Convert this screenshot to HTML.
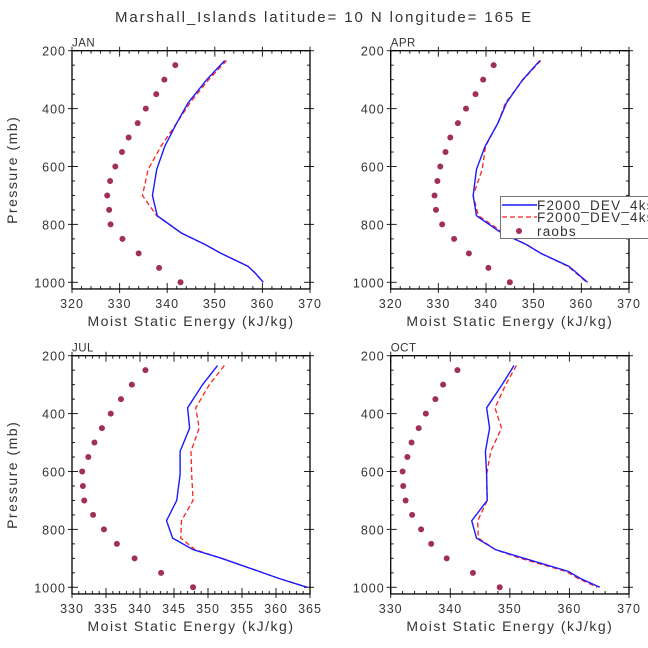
<!DOCTYPE html>
<html><head><meta charset="utf-8"><style>
body{margin:0;background:#fff;}
svg{display:block;font-family:"Liberation Sans",sans-serif;}
</style></head><body>
<svg id="chart" width="648" height="648" viewBox="0 0 648 648" xmlns="http://www.w3.org/2000/svg">
<text x="324" y="22" text-anchor="middle" font-size="15" fill="#333" letter-spacing="1.9">Marshall_Islands  latitude= 10 N longitude= 165 E</text>
</svg>
<script>
const levels=[234,300,380,450,530,610,700,770,830,870,900,945,970,1000];
const obsLevels=[250,300,350,400,450,500,550,600,650,700,750,800,850,900,950,1000];
const janBlue=[352.1,348.3,344.4,342.0,339.5,337.8,336.9,337.9,343.0,348.0,351.3,357.0,358.6,360.2];
const janRed=[352.5,348.7,344.8,342.0,338.7,336.0,334.8,337.8,343.0,348.0,351.3,357.0,358.6,360.1];
const janObs=[341.7,339.4,337.7,335.5,333.8,331.9,330.5,329.1,328.0,327.4,327.8,328.1,330.6,334.0,338.3,342.8];
const aprBlue=[351.3,347.7,344.3,342.5,339.8,338.0,337.3,338.0,343.3,348.5,351.5,357.4,359.2,361.3];
const aprRed=[351.5,347.8,344.1,342.5,339.9,339.2,337.3,338.4,343.8,348.5,351.5,357.2,359.0,361.1];
const aprObs=[341.6,339.4,337.8,335.8,334.1,332.5,331.5,330.4,329.8,329.2,329.5,330.8,333.3,336.4,340.5,345.0];
const julBlue=[351.4,349.2,347.0,347.3,345.9,345.9,345.4,343.9,344.8,347.8,352.0,357.5,360.5,364.6];
const julRed=[352.4,350.2,348.2,348.7,347.5,347.6,347.8,346.1,346.0,348.1,352.0,357.5,360.5,364.6];
const julObs=[340.8,338.8,337.2,335.7,334.4,333.3,332.4,331.5,331.6,331.8,333.1,334.7,336.6,339.2,343.1,347.8];
const octBlue=[350.7,348.7,346.1,346.6,345.9,346.1,346.2,343.6,344.4,347.6,352.4,359.8,361.9,365.1];
const octRed=[351.1,349.3,347.5,348.6,346.8,346.1,346.2,344.6,344.7,347.6,351.8,359.4,361.5,364.7];
const octObs=[341.2,338.8,337.5,335.9,334.7,333.5,332.8,332.0,332.1,332.5,333.6,335.1,336.8,339.4,343.8,348.3];
const yTicks=[200,400,600,800,1000];
const janXTicks=[320,330,340,350,360,370];
const julXTicks=[330,335,340,345,350,355,360,365];
const octXTicks=[330,340,350,360,370];

const svg=document.getElementById('chart');
const NS='http://www.w3.org/2000/svg';
function mk(tag,attrs,parent){const e=document.createElementNS(NS,tag);for(const k in attrs)e.setAttribute(k,attrs[k]);(parent||svg).appendChild(e);return e;}

function panel(name,x0,x1,y0,xmin,xmax,xTicks,minorStep,blue,red,obs,showYTitle){
  const g=mk('g',{});
  
  
  const pmin=200,pmax=1023;
  const h=(282.3-50.7)/800;
  const yb=y0+(pmax-pmin)*h;
  const sx=v=>x0+(v-xmin)/(xmax-xmin)*(x1-x0);
  const sy=p=>y0+(p-pmin)*h;
  const c='#222';
  for(let v=xmin;v<=xmax+1e-6;v+=minorStep){
    const major=xTicks.some(t=>Math.abs(t-v)<1e-6);
    const L=major?6:3;
    mk('line',{x1:sx(v),x2:sx(v),y1:y0,y2:y0+L,stroke:c,'stroke-width':1},g);
    mk('line',{x1:sx(v),x2:sx(v),y1:yb,y2:yb-L,stroke:c,'stroke-width':1},g);
    if(major){
      mk('line',{x1:sx(v),x2:sx(v),y1:y0,y2:y0-4,stroke:c,'stroke-width':1},g);
      mk('line',{x1:sx(v),x2:sx(v),y1:yb,y2:yb+4,stroke:c,'stroke-width':1},g);
    }
  }
  for(let p=200;p<=1000;p+=50){
    const major=yTicks.includes(p);
    const L=major?6:3;
    mk('line',{x1:x0,x2:x0+L,y1:sy(p),y2:sy(p),stroke:c,'stroke-width':1},g);
    mk('line',{x1:x1,x2:x1-L,y1:sy(p),y2:sy(p),stroke:c,'stroke-width':1},g);
    if(major){
      mk('line',{x1:x0,x2:x0-4,y1:sy(p),y2:sy(p),stroke:c,'stroke-width':1},g);
      mk('line',{x1:x1,x2:x1+4,y1:sy(p),y2:sy(p),stroke:c,'stroke-width':1},g);
    }
  }
  const box=mk('rect',{x:x0,y:y0,width:x1-x0,height:yb-y0,fill:'none',stroke:'#000','stroke-width':1.3},g);
  
  
  xTicks.forEach(t=>{const e=mk('text',{x:sx(t),y:yb+19,'text-anchor':'middle','font-size':12.5,fill:'#333','letter-spacing':'1'},g);e.textContent=t;
    
    });
  yTicks.forEach(t=>{const e=mk('text',{x:x0-6,y:sy(t)+5,'text-anchor':'end','font-size':12.5,fill:'#333','letter-spacing':'1'},g);e.textContent=t;
    
    });
  const xt=mk('text',{x:(x0+x1)/2,y:yb+37,'text-anchor':'middle','font-size':14,fill:'#333','letter-spacing':'1.5'},g);
  xt.textContent='Moist Static Energy (kJ/kg)';
  
  
  if(showYTitle){
    const yt=mk('text',{x:0,y:0,'text-anchor':'middle','font-size':14,fill:'#333','letter-spacing':'1.5',transform:`translate(17,${(y0+yb)/2}) rotate(-90)`},g);
    yt.textContent='Pressure (mb)';
    
    
  }
  const lab=mk('text',{x:x0,y:y0-4,'font-size':11.5,fill:'#333','letter-spacing':'0.5'},g);
  lab.textContent=name.toUpperCase();
  
  
  const ptsR=red.map((v,i)=>sx(v)+','+sy(levels[i])).join(' ');
  const lr=mk('polyline',{points:ptsR,fill:'none',stroke:'#ff2020','stroke-width':1.3,'stroke-dasharray':'5,3'},g);
  
  
  const ptsB=blue.map((v,i)=>sx(v)+','+sy(levels[i])).join(' ');
  const lb=mk('polyline',{points:ptsB,fill:'none',stroke:'#1a1aff','stroke-width':1.4},g);
  
  
  obs.forEach((v,i)=>{const d=mk('circle',{cx:sx(v),cy:sy(obsLevels[i]),r:3,fill:'#a03058'},g);
    
    });
}
panel('jan',72,310,50.7,320,370,janXTicks,2,janBlue,janRed,janObs,true);
panel('apr',390.7,629,50.7,320,370,janXTicks,2,aprBlue,aprRed,aprObs,false);
panel('jul',72,310,355.7,330,365,julXTicks,1,julBlue,julRed,julObs,true);
panel('oct',390.7,629,355.7,330,370,octXTicks,2,octBlue,octRed,octObs,false);

const lg=mk('g',{});


mk('rect',{x:500.5,y:196.5,width:160,height:42,fill:'#fff',stroke:'#777','stroke-width':1},lg);
mk('line',{x1:502,x2:537,y1:205,y2:205,stroke:'#1a1aff','stroke-width':1.4},lg);
mk('line',{x1:502,x2:537,y1:217,y2:217,stroke:'#ff2020','stroke-width':1.3,'stroke-dasharray':'5,3'},lg);
mk('circle',{cx:519,cy:231,r:3,fill:'#a03058'},lg);
[['F2000_DEV_4kss',210],['F2000_DEV_4kss',222],['raobs',236]].forEach(([t,y])=>{
  const e=mk('text',{x:537,y:y,'font-size':13.5,fill:'#333','letter-spacing':'1.2'},lg);e.textContent=t;
  
  
});
</script>
</body></html>
